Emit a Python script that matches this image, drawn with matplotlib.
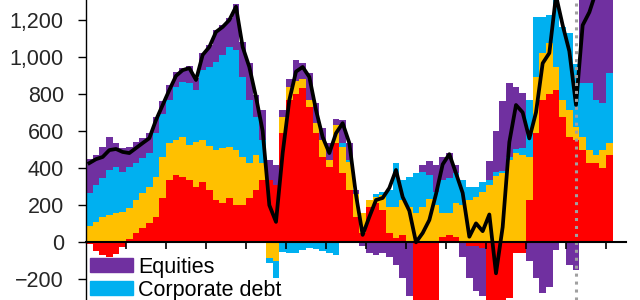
import numpy as np
import matplotlib.pyplot as plt
from matplotlib.patches import Patch
from matplotlib.ticker import StrMethodFormatter

plt.rcParams['font.family'] = ['Liberation Sans', 'DejaVu Sans']

# flows, 6 points per year (signed, stacked from zero)
red = [-10, -45, -70, -80, -65, -25, 17, 50, 77, 103,
       137, 240, 336, 363, 352, 336, 298, 325, 282, 228,
       212, 239, 201, 201, 239, 282, 336, 336, 309, 588,
       767, 800, 831, 730, 588, 460, 406, 535, 372, 282,
       137, 50, 190, 212, 174, 50, 22, 40, 0, -350,
       -350, -350, -350, 30, 40, 30, 0, -20, -20, -30,
       -350, -350, -350, -300, -60, -60, 228, 590, 767, 800,
       821, 675, 567, 551, 497, 425, 425, 400, 470]
orange = [88, 110, 137, 147, 157, 163, 167, 178, 189, 195,
          213, 220, 199, 188, 216, 188, 242, 226, 237, 269,
          296, 275, 296, 259, 188, 188, 91, -85, -100, 87,
          70, 70, 49, 37, 54, 91, 37, 97, 142, 151,
          125, 107, 38, 32, 81, 140, 168, 188, 190, 157,
          190, 236, 200, 127, 117, 182, 200, 228, 244, 271,
          309, 357, 372, 443, 481, 470, 232, 300, 253, 273,
          124, 92, 146, 70, 70, 72, 45, 100, 65]
corp_debt = [178, 199, 209, 243, 249, 216, 222, 199, 188, 183,
             238, 230, 232, 286, 296, 335, 281, 377, 426, 475,
             502, 539, 540, 431, 340, 205, 124, -27, -90, -50,
             -60, -55, -40, -30, -35, -45, -60, -70, 21, 10,
             0, 0, 0, 18, 16, 92, 237, 108, 162, 215,
             190, 129, 71, 179, 190, 160, 136, 70, 54, 54,
             27, 20, 10, 15, 20, 40, 307, 324, 194, 152,
             405, 393, 415, 340, 291, 361, 297, 250, 375]
equities = [182, 162, 168, 178, 129, 129, 108, 114, 107, 109,
            87, 70, 81, 81, 75, 91, 64, 92, 119, 172,
            161, 156, 247, 189, 200, 119, 162, 107, 107, 38,
            43, 113, 84, 145, 108, 64, 92, 30, 124, 92,
            20, -20, -60, -70, -60, -80, -120, -190, -290, 0,
            37, 75, 145, 124, 134, 44, -80, -170, -240, -260,
            100, 223, 378, 400, 336, 294, -100, -190, -275, -240,
            -40, 0, -120, -150, 542, 542, 633, 650, 490]
total = [427, 448, 460, 497, 503, 487, 481, 508, 535, 561,
         659, 740, 821, 897, 928, 939, 875, 1010, 1053, 1134,
         1161, 1198, 1270, 1053, 945, 783, 600, 200, 110, 481,
         767, 920, 945, 891, 713, 567, 481, 588, 642, 535,
         255, 40, 137, 228, 239, 293, 390, 244, 170, 0,
         50, 120, 260, 420, 475, 372, 266, 30, 102, 60,
         150, -167, 82, 540, 740, 700, 560, 700, 965, 1020,
         1330, 1170, 1030, 740, 1170, 1240, 1350, 1400, 1400]

marker_year = 12.25   # dotted vertical line
colors = ['#ff0000', '#ffc000', '#00b0f0', '#7030a0']

n = len(total)
x = np.arange(n) / 6 + 1 / 12

fig = plt.figure(figsize=(6.4, 3), dpi=100)
ax = fig.add_axes([86 / 640, 0, 540 / 640, 1])

pos_base = np.zeros(n)
neg_base = np.zeros(n)
for vals, col in zip([red, orange, corp_debt, equities], colors):
    v = np.array(vals, dtype=float)
    p = np.clip(v, 0, None)
    q = np.clip(v, None, 0)
    ax.bar(x, p, width=1 / 6, bottom=pos_base, color=col, linewidth=0, antialiased=False)
    ax.bar(x, q, width=1 / 6, bottom=neg_base, color=col, linewidth=0, antialiased=False)
    pos_base += p
    neg_base += q

ax.plot(x, total, color='black', lw=2.7, solid_joinstyle='round', zorder=4)
ax.axvline(marker_year, color='#a0a0a0', lw=2.2, ls=(0, (1, 1.6)), zorder=5)

ax.set_xlim(0, 13.5)
ax.set_ylim(-311, 1306)
ax.set_yticks(range(-200, 1201, 200))
ax.yaxis.set_major_formatter(StrMethodFormatter('{x:,.0f}'))
ax.set_xticks(range(1, 14))

for s in ['top', 'right']:
    ax.spines[s].set_visible(False)
ax.spines['bottom'].set_position(('data', 0))
ax.spines['bottom'].set_linewidth(1.5)
ax.spines['left'].set_linewidth(1.0)
ax.spines['bottom'].set_zorder(6)

ax.tick_params(axis='y', direction='out', length=6, width=1.0, pad=10,
               labelsize=15.5, labelcolor='#262626')
ax.tick_params(axis='x', direction='out', length=5, width=1.2, labelbottom=False)

handles = [Patch(color=colors[3]), Patch(color=colors[2])]
ax.legend(handles, ['Equities', 'Corporate debt'], loc='upper left',
          bbox_to_anchor=(4 / 540, 0.145), frameon=False, fontsize=15.5,
          handlelength=2.0, handleheight=0.65, handletextpad=0.25,
          labelspacing=0.1, borderpad=0, borderaxespad=0)

fig.savefig('out.png', dpi=100)
